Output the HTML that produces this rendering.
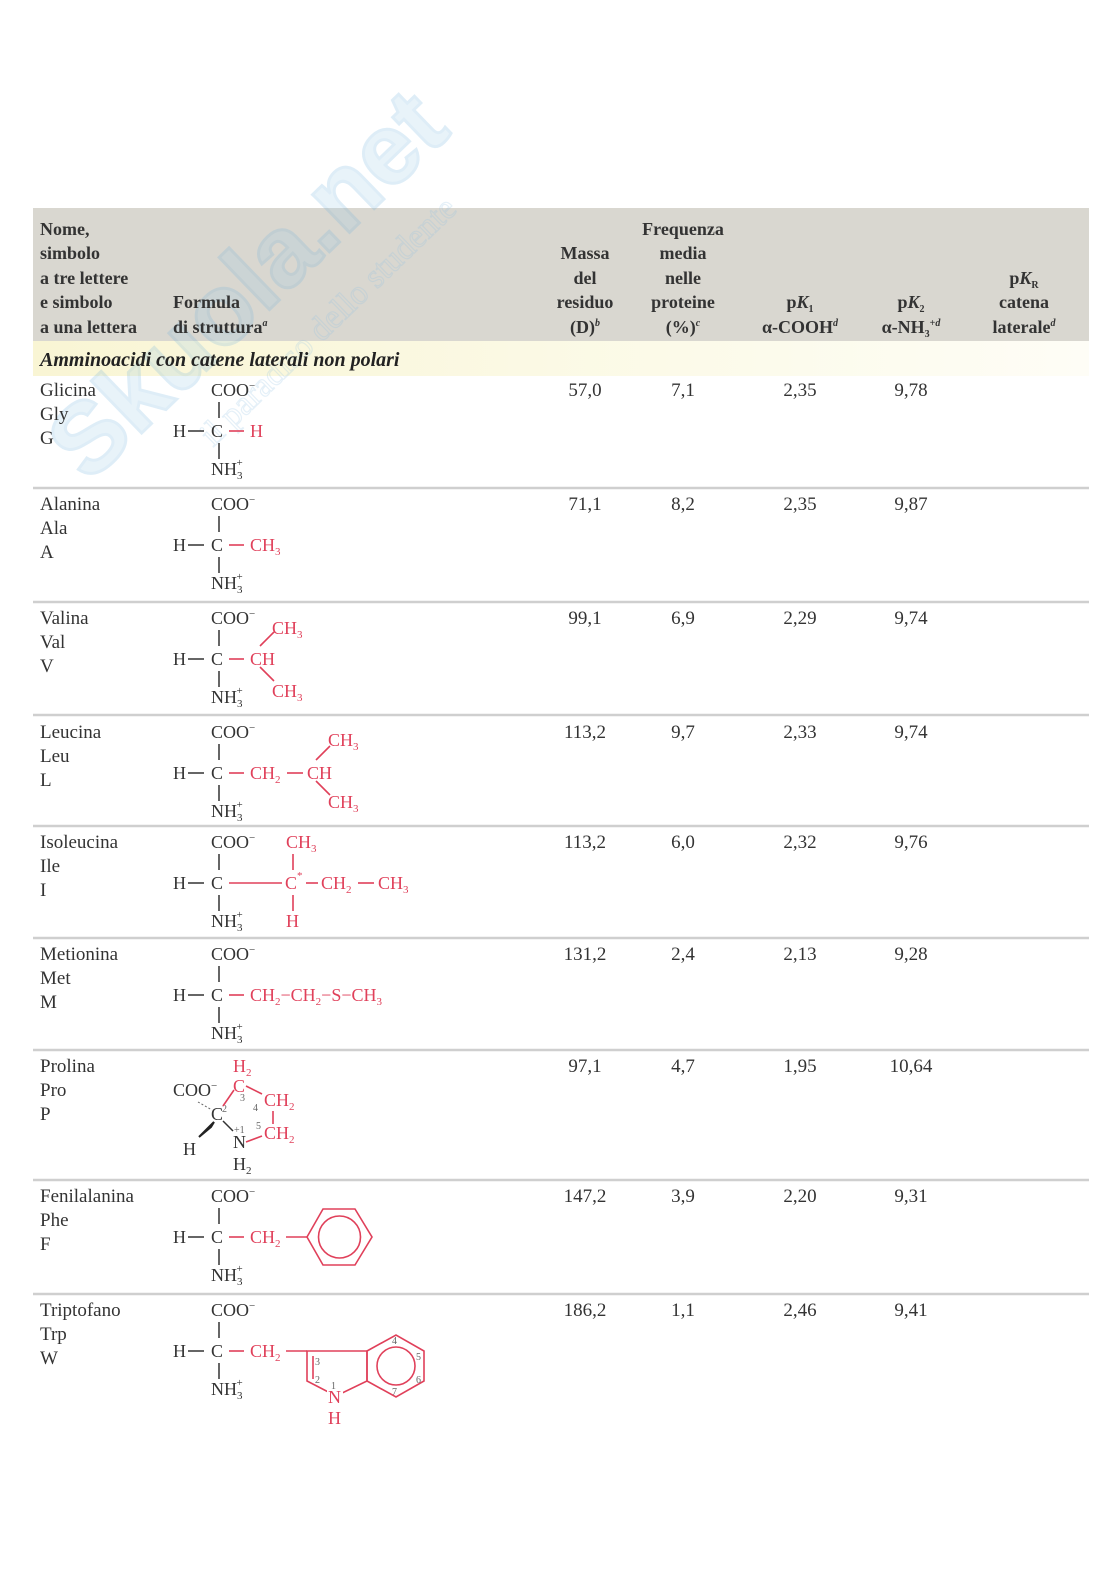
<!DOCTYPE html>
<html><head><meta charset="utf-8"><style>
html,body{margin:0;padding:0;background:#fff;}
svg{display:block;}
text{font-family:"Liberation Serif",serif;}
.n{font-size:19px;fill:#333;}
.h{font-size:18px;font-weight:bold;fill:#333;}
.s{font-size:18px;fill:#333;}
.r{font-size:18px;fill:#e0405a;}
.k{stroke:#333;stroke-width:1.5;}
.rl{stroke:#e0405a;stroke-width:1.6;fill:none;}
.sep{stroke:#cfcfcf;stroke-width:2.5;}
.sm{font-size:10px;fill:#666;}
</style></head><body>
<svg width="1116" height="1579" viewBox="0 0 1116 1579" xmlns="http://www.w3.org/2000/svg">
<defs>
<linearGradient id="yg" x1="0" x2="1"><stop offset="0" stop-color="#f9f5d4"/><stop offset="0.7" stop-color="#fcfbec"/><stop offset="1" stop-color="#fefdf6"/></linearGradient>
</defs>
<rect x="33" y="208" width="1056" height="133" fill="#d9d7d0"/>
<rect x="33" y="341" width="1056" height="35" fill="url(#yg)"/>
<!-- watermark -->
<g transform="translate(255,275) rotate(-44)" opacity="0.22">
<text x="-265" y="35" style="font-family:'Liberation Sans',sans-serif;font-size:100px;font-weight:bold;fill:#9ccbe8;stroke:#6fb2dd;stroke-width:3">Skuola.net</text>
<text x="-150" y="95" style="font-family:'Liberation Serif',serif;font-size:34px;fill:none;stroke:#8cc0e3;stroke-width:1.2">il paradiso dello studente</text>
</g>
<!-- header -->
<g class="h">
<text x="40" y="235">Nome,</text>
<text x="40" y="259">simbolo</text>
<text x="40" y="284">a tre lettere</text>
<text x="40" y="308">e simbolo</text>
<text x="40" y="333">a una lettera</text>
<text x="173" y="308">Formula</text>
<text x="173" y="333">di struttura<tspan font-size="10" dy="-7" font-style="italic">a</tspan></text>
<g text-anchor="middle">
<text x="585" y="259">Massa</text><text x="585" y="284">del</text><text x="585" y="308">residuo</text><text x="585" y="333">(D)<tspan font-size="10" dy="-7" font-style="italic">b</tspan></text>
<text x="683" y="235">Frequenza</text><text x="683" y="259">media</text><text x="683" y="284">nelle</text><text x="683" y="308">proteine</text><text x="683" y="333">(%)<tspan font-size="10" dy="-7" font-style="italic">c</tspan></text>
<text x="800" y="308">p<tspan font-style="italic">K</tspan><tspan font-size="10" dy="4">1</tspan></text>
<text x="800" y="333">α-COOH<tspan font-size="10" dy="-7" font-style="italic">d</tspan></text>
<text x="911" y="308">p<tspan font-style="italic">K</tspan><tspan font-size="10" dy="4">2</tspan></text>
<text x="911" y="333">α-NH<tspan font-size="10" dy="4">3</tspan><tspan font-size="10" dy="-11">+<tspan font-style="italic">d</tspan></tspan></text>
<text x="1024" y="284">p<tspan font-style="italic">K</tspan><tspan font-size="10" dy="4">R</tspan></text>
<text x="1024" y="308">catena</text>
<text x="1024" y="333">laterale<tspan font-size="10" dy="-7" font-style="italic">d</tspan></text>
</g>
</g>
<text x="40" y="366" style="font-size:20px;font-weight:bold;font-style:italic;fill:#222">Amminoacidi con catene laterali non polari</text>
<!-- separators -->
<g class="sep">
<line x1="33" y1="488" x2="1089" y2="488"/><line x1="33" y1="602" x2="1089" y2="602"/>
<line x1="33" y1="715" x2="1089" y2="715"/><line x1="33" y1="826" x2="1089" y2="826"/>
<line x1="33" y1="938" x2="1089" y2="938"/><line x1="33" y1="1050" x2="1089" y2="1050"/>
<line x1="33" y1="1180" x2="1089" y2="1180"/><line x1="33" y1="1294" x2="1089" y2="1294"/>
</g>
<!-- names and values -->
<g class="n">
<text x="40" y="396">Glicina</text><text x="40" y="420">Gly</text><text x="40" y="444">G</text>
<text x="40" y="510">Alanina</text><text x="40" y="534">Ala</text><text x="40" y="558">A</text>
<text x="40" y="624">Valina</text><text x="40" y="648">Val</text><text x="40" y="672">V</text>
<text x="40" y="738">Leucina</text><text x="40" y="762">Leu</text><text x="40" y="786">L</text>
<text x="40" y="848">Isoleucina</text><text x="40" y="872">Ile</text><text x="40" y="896">I</text>
<text x="40" y="960">Metionina</text><text x="40" y="984">Met</text><text x="40" y="1008">M</text>
<text x="40" y="1072">Prolina</text><text x="40" y="1096">Pro</text><text x="40" y="1120">P</text>
<text x="40" y="1202">Fenilalanina</text><text x="40" y="1226">Phe</text><text x="40" y="1250">F</text>
<text x="40" y="1316">Triptofano</text><text x="40" y="1340">Trp</text><text x="40" y="1364">W</text>
<g text-anchor="middle">
<text x="585" y="396">57,0</text><text x="683" y="396">7,1</text><text x="800" y="396">2,35</text><text x="911" y="396">9,78</text>
<text x="585" y="510">71,1</text><text x="683" y="510">8,2</text><text x="800" y="510">2,35</text><text x="911" y="510">9,87</text>
<text x="585" y="624">99,1</text><text x="683" y="624">6,9</text><text x="800" y="624">2,29</text><text x="911" y="624">9,74</text>
<text x="585" y="738">113,2</text><text x="683" y="738">9,7</text><text x="800" y="738">2,33</text><text x="911" y="738">9,74</text>
<text x="585" y="848">113,2</text><text x="683" y="848">6,0</text><text x="800" y="848">2,32</text><text x="911" y="848">9,76</text>
<text x="585" y="960">131,2</text><text x="683" y="960">2,4</text><text x="800" y="960">2,13</text><text x="911" y="960">9,28</text>
<text x="585" y="1072">97,1</text><text x="683" y="1072">4,7</text><text x="800" y="1072">1,95</text><text x="911" y="1072">10,64</text>
<text x="585" y="1202">147,2</text><text x="683" y="1202">3,9</text><text x="800" y="1202">2,20</text><text x="911" y="1202">9,31</text>
<text x="585" y="1316">186,2</text><text x="683" y="1316">1,1</text><text x="800" y="1316">2,46</text><text x="911" y="1316">9,41</text>
</g>
</g>

<!-- backbone templates -->
<g id="bb0">
<text class="s" x="211" y="396">COO<tspan font-size="11" dy="-7">−</tspan></text>
<line class="k" x1="219" y1="402" x2="219" y2="418"/>
<text class="s" x="173" y="437">H</text><line class="k" x1="188" y1="431" x2="204" y2="431"/>
<text class="s" x="211" y="437">C</text><line class="rl" x1="229" y1="431" x2="244" y2="431"/>
<line class="k" x1="219" y1="443" x2="219" y2="459"/>
<text class="s" x="211" y="475">NH<tspan font-size="11" dy="4">3</tspan><tspan font-size="11" dx="-6" dy="-13">+</tspan></text>
</g>
<text class="r" x="250" y="437">H</text>

<use href="#bb0" y="114"/>
<text class="r" x="250" y="551">CH<tspan font-size="11" dy="4">3</tspan></text>

<use href="#bb0" y="228"/>
<text class="r" x="250" y="665">CH</text>
<line class="rl" x1="260" y1="646" x2="274" y2="632"/>
<line class="rl" x1="260" y1="667" x2="274" y2="681"/>
<text class="r" x="272" y="634">CH<tspan font-size="11" dy="4">3</tspan></text>
<text class="r" x="272" y="697">CH<tspan font-size="11" dy="4">3</tspan></text>

<use href="#bb0" y="342"/>
<text class="r" x="250" y="779">CH<tspan font-size="11" dy="4">2</tspan></text>
<line class="rl" x1="287" y1="773" x2="303" y2="773"/>
<text class="r" x="307" y="779">CH</text>
<line class="rl" x1="316" y1="760" x2="330" y2="746"/>
<line class="rl" x1="316" y1="781" x2="330" y2="795"/>
<text class="r" x="328" y="746">CH<tspan font-size="11" dy="4">3</tspan></text>
<text class="r" x="328" y="808">CH<tspan font-size="11" dy="4">3</tspan></text>

<g transform="translate(0,452)">
<text class="s" x="211" y="396">COO<tspan font-size="11" dy="-7">−</tspan></text>
<line class="k" x1="219" y1="402" x2="219" y2="418"/>
<text class="s" x="173" y="437">H</text><line class="k" x1="188" y1="431" x2="204" y2="431"/>
<text class="s" x="211" y="437">C</text><line class="rl" x1="229" y1="431" x2="282" y2="431"/>
<line class="k" x1="219" y1="443" x2="219" y2="459"/>
<text class="s" x="211" y="475">NH<tspan font-size="11" dy="4">3</tspan><tspan font-size="11" dx="-6" dy="-13">+</tspan></text>
<text class="r" x="286" y="396">CH<tspan font-size="11" dy="4">3</tspan></text>
<line class="rl" x1="293" y1="402" x2="293" y2="418"/>
<text class="r" x="285" y="437">C<tspan font-size="11" dy="-10">*</tspan></text>
<line class="rl" x1="306" y1="431" x2="318" y2="431"/>
<text class="r" x="321" y="437">CH<tspan font-size="11" dy="4">2</tspan></text>
<line class="rl" x1="358" y1="431" x2="374" y2="431"/>
<text class="r" x="378" y="437">CH<tspan font-size="11" dy="4">3</tspan></text>
<line class="rl" x1="293" y1="443" x2="293" y2="459"/>
<text class="r" x="286" y="475">H</text>
</g>

<use href="#bb0" y="564"/>
<text class="r" x="250" y="1001">CH<tspan font-size="11" dy="4">2</tspan><tspan dy="-4">−CH</tspan><tspan font-size="11" dy="4">2</tspan><tspan dy="-4">−S−CH</tspan><tspan font-size="11" dy="4">3</tspan></text>

<!-- Proline -->
<text class="r" x="233" y="1072">H<tspan font-size="11" dy="4">2</tspan></text>
<text class="s" x="173" y="1096">COO<tspan font-size="11" dy="-7">−</tspan></text>
<text class="r" x="233" y="1092">C</text>
<text class="r" x="264" y="1106">CH<tspan font-size="11" dy="4">2</tspan></text>
<text class="r" x="264" y="1139">CH<tspan font-size="11" dy="4">2</tspan></text>
<text class="s" x="211" y="1120">C</text>
<text class="s" x="233" y="1148">N</text>
<text class="s" x="233" y="1170">H<tspan font-size="11" dy="4">2</tspan></text>
<text class="s" x="183" y="1155">H</text>
<text class="sm" x="222" y="1112">2</text><text class="sm" x="240" y="1101">3</text><text class="sm" x="253" y="1111">4</text>
<text class="sm" x="234" y="1133">+1</text><text class="sm" x="256" y="1129">5</text>
<line class="rl" x1="223" y1="1106" x2="234" y2="1090"/>
<line class="rl" x1="246" y1="1086" x2="262" y2="1094"/>
<line class="rl" x1="273" y1="1111" x2="273" y2="1124"/>
<line class="rl" x1="246" y1="1142" x2="262" y2="1136"/>
<line class="k" x1="223" y1="1121" x2="233" y2="1131" stroke-width="1"/>
<line x1="198" y1="1102" x2="212" y2="1110" stroke="#666" stroke-width="1" stroke-dasharray="2,2"/>
<polygon points="199,1137 214,1122 211,1127" fill="#222" stroke="#222" stroke-width="2"/>

<!-- Phe -->
<use href="#bb0" y="806"/>
<text class="r" x="250" y="1243">CH<tspan font-size="11" dy="4">2</tspan></text>
<line class="rl" x1="286" y1="1237" x2="307" y2="1237"/>
<polygon class="rl" points="307,1237 323,1209 355,1209 372,1237 355,1265 323,1265"/>
<circle class="rl" cx="339.5" cy="1237" r="21"/>

<!-- Trp -->
<use href="#bb0" y="920"/>
<text class="r" x="250" y="1357">CH<tspan font-size="11" dy="4">2</tspan></text>
<line class="rl" x1="286" y1="1351" x2="307" y2="1351"/>
<polygon class="rl" points="307,1351 367,1351 367,1381 336,1396 307,1381"/>
<line class="rl" x1="313" y1="1356" x2="313" y2="1379"/>
<polygon class="rl" points="367,1351 396,1335 424,1351 424,1381 396,1397 367,1381"/>
<circle class="rl" cx="396" cy="1366" r="19"/>
<rect x="327" y="1388" width="16" height="16" fill="#fff"/>
<text class="r" x="328" y="1403">N</text>
<text class="r" x="328" y="1424">H</text>
<text class="sm" x="315" y="1365">3</text><text class="sm" x="315" y="1383">2</text><text class="sm" x="331" y="1389">1</text>
<text class="sm" x="392" y="1344">4</text><text class="sm" x="416" y="1360">5</text><text class="sm" x="416" y="1383">6</text><text class="sm" x="392" y="1395">7</text>
</svg>
</body></html>
